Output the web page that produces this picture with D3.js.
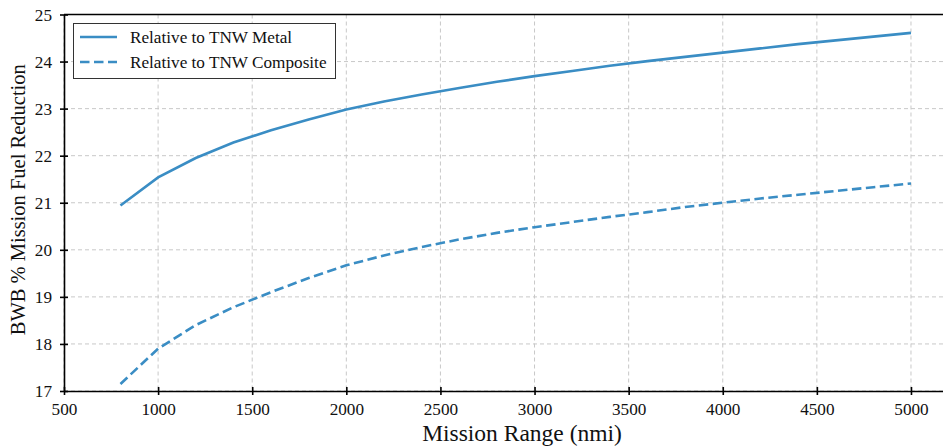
<!DOCTYPE html>
<html>
<head>
<meta charset="utf-8">
<script src="https://cdn.jsdelivr.net/npm/d3@7"></script>
<style>
  html, body { margin: 0; padding: 0; background: #fff; }
  svg { display: block; }
  text { font-family: "Liberation Serif", "DejaVu Serif", serif; fill: #111; }
</style>
</head>
<body>
<svg id="chart" width="943" height="446"></svg>
<script>
// Mission range (nmi)
const ranges = [800, 1000, 1200, 1400, 1600, 1800, 2000, 2200, 2400, 2600, 2800,
                3000, 3200, 3400, 3600, 3800, 4000, 4200, 4400, 4600, 4800, 5000];
// % fuel reduction of the BWB relative to the metal TNW
const metal = [20.94, 21.54, 21.95, 22.28, 22.54, 22.77, 22.98, 23.15, 23.30, 23.44, 23.57,
               23.69, 23.80, 23.91, 24.01, 24.10, 24.19, 24.28, 24.37, 24.45, 24.53, 24.61];
// % fuel reduction of the BWB relative to the composite TNW
const composite = [17.15, 17.90, 18.40, 18.78, 19.10, 19.40, 19.67, 19.88, 20.06, 20.22, 20.36,
                   20.48, 20.59, 20.70, 20.80, 20.91, 21.00, 21.09, 21.17, 21.25, 21.33, 21.41];
const seriesNames = ["Relative to TNW Metal", "Relative to TNW Composite"];
const xTicks = [500, 1000, 1500, 2000, 2500, 3000, 3500, 4000, 4500, 5000];
const yTicks = [17, 18, 19, 20, 21, 22, 23, 24, 25];

const color = "#3a8dc4";
const svg = d3.select("#chart");

const x = d3.scaleLinear().domain([500, 5210]).range([64, 950.5]);
const y = d3.scaleLinear().domain([17, 25]).range([391, 14.5]);

// grid
const grid = svg.append("g").attr("stroke", "#c8c8c8").attr("stroke-width", 1)
  .attr("stroke-dasharray", "4,3").attr("fill", "none");
xTicks.forEach(t => grid.append("line")
  .attr("x1", x(t)).attr("x2", x(t)).attr("y1", y(25)).attr("y2", y(17)));
yTicks.forEach(t => grid.append("line")
  .attr("x1", x(500)).attr("x2", 950).attr("y1", y(t)).attr("y2", y(t)));

// series
const line = d3.line().x(d => x(d[0])).y(d => y(d[1]));
svg.append("path")
  .attr("d", line(ranges.map((r, i) => [r, metal[i]])))
  .attr("fill", "none").attr("stroke", color).attr("stroke-width", 2.6);
svg.append("path")
  .attr("d", line(ranges.map((r, i) => [r, composite[i]])))
  .attr("fill", "none").attr("stroke", color).attr("stroke-width", 2.6)
  .attr("stroke-dasharray", "9.5,4.5");

// axes
const xAxis = d3.axisBottom(x).tickValues(xTicks).tickFormat(d3.format("d"))
  .tickSizeInner(4).tickSizeOuter(0).tickPadding(8);
const gx = svg.append("g").attr("transform", `translate(0,${y(17)})`).call(xAxis);
const yAxis = d3.axisLeft(y).tickValues(yTicks).tickFormat(d3.format("d"))
  .tickSizeInner(4).tickSizeOuter(0).tickPadding(8);
const gy = svg.append("g").attr("transform", `translate(${x(500)},0)`).call(yAxis);

[gx, gy].forEach(g => {
  g.select(".domain").attr("stroke", "#000").attr("stroke-width", 1.6);
  g.selectAll(".tick line").attr("stroke", "#000").attr("stroke-width", 1.6);
  g.selectAll(".tick text").attr("font-family", "Liberation Serif, serif")
    .attr("font-size", 17.2).attr("fill", "#111");
});
// inward half of the ticks
gx.selectAll(".tick line").attr("y1", -4);
gy.selectAll(".tick line").attr("x1", 4);

// top spine
svg.append("line").attr("x1", x(500)).attr("x2", 950).attr("y1", y(25)).attr("y2", y(25))
  .attr("stroke", "#000").attr("stroke-width", 1.6);

// axis labels
svg.append("text").attr("x", 522).attr("y", 441)
  .attr("text-anchor", "middle").attr("font-size", 23.5).text("Mission Range (nmi)");
svg.append("text").attr("transform", `translate(25,${(y(17) + y(25)) / 2 - 3}) rotate(-90)`)
  .attr("text-anchor", "middle").attr("font-size", 20.5).text("BWB % Mission Fuel Reduction");

// legend
const lg = svg.append("g");
lg.append("rect").attr("x", 73.5).attr("y", 23.5).attr("width", 262).attr("height", 55)
  .attr("fill", "#fff").attr("stroke", "#333").attr("stroke-width", 1);
seriesNames.forEach((name, i) => {
  const yy = 37 + i * 25;
  lg.append("line").attr("x1", 80).attr("x2", 117).attr("y1", yy).attr("y2", yy)
    .attr("stroke", color).attr("stroke-width", 2.6)
    .attr("stroke-dasharray", i === 1 ? "9.5,4.5" : null);
  lg.append("text").attr("x", 130).attr("y", yy + 6).attr("font-size", 17.2).text(name);
});
</script>
</body>
</html>
